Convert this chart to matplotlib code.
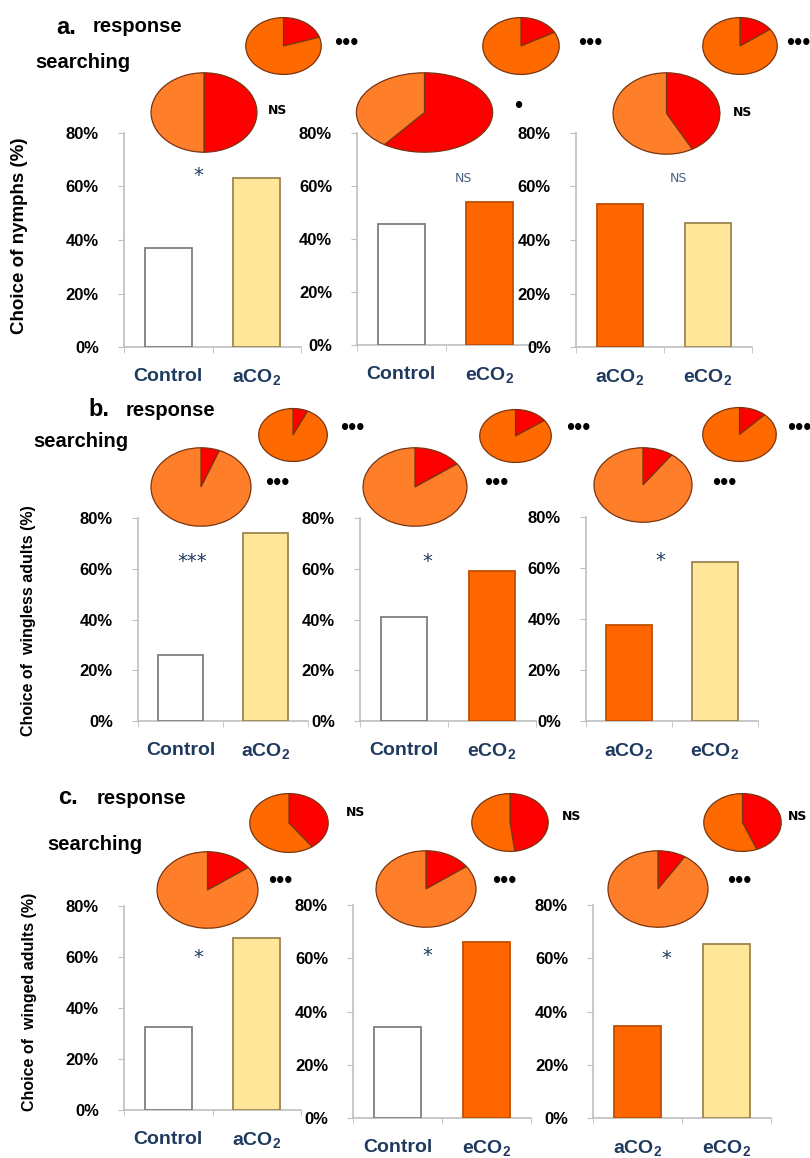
import matplotlib
matplotlib.use("Agg")
import matplotlib.pyplot as plt

plt.rcParams['font.family'] = ['Liberation Sans', 'DejaVu Sans']
plt.rcParams['mathtext.fontset'] = 'custom'
plt.rcParams['mathtext.bf'] = 'Liberation Sans:bold'
plt.rcParams['mathtext.rm'] = 'Liberation Sans:bold'

# ---------------- data ----------------
row_letters = ['a.', 'b.', 'c.']
y_labels = ['Choice of nymphs (%)', 'Choice of  wingless adults (%)', 'Choice of  winged adults (%)']
col_categories = [['Control', r'aCO$_\mathbf{2}$'], ['Control', r'eCO$_\mathbf{2}$'],
                  [r'aCO$_\mathbf{2}$', r'eCO$_\mathbf{2}$']]
col_bar_kinds = [['white', 'yellow'], ['white', 'orange'], ['orange', 'yellow']]

nymph_values = [[37, 63], [45.5, 54], [53.5, 46.5]]
wingless_values = [[26, 74], [41, 59], [37.5, 62.5]]
winged_values = [[32.5, 67.5], [34, 66], [34.5, 65.5]]
bar_values = [nymph_values, wingless_values, winged_values]

bar_sig = [['*', 'NS', 'NS'], ['***', '*', '*'], ['*', '*', '*']]

# pie red fractions (red = first choice share)
response_red = [[0.20, 0.17, 0.15], [0.07, 0.15, 0.12], [0.40, 0.48, 0.44]]
searching_red = [[0.50, 0.60, 0.42], [0.06, 0.15, 0.10], [0.15, 0.15, 0.09]]
response_sig = [['\u2022\u2022\u2022'] * 3, ['\u2022\u2022\u2022'] * 3, ['NS'] * 3]
searching_sig = [['NS', '\u2022', 'NS'], ['\u2022\u2022\u2022'] * 3, ['\u2022\u2022\u2022'] * 3]

y_ticks = [0, 20, 40, 60, 80]
y_tick_labels = ['0%', '20%', '40%', '60%', '80%']

# ---------------- style ----------------
W, H = 810, 1158
fig = plt.figure(figsize=(W / 100, H / 100), dpi=100)

bar_face = {'white': '#FFFFFF', 'yellow': '#FFE699', 'orange': '#FF6600'}
bar_edge = {'white': '#7F7F7F', 'yellow': '#9C8650', 'orange': '#C04E00'}
navy = '#1F3A5F'


def px_axes(x, y, w, h):
    return fig.add_axes([x / W, 1 - (y + h) / H, w / W, h / H])


# bar axes layout in pixels: left (x of y-axis), top (80%), bottom (0%)
bar_left = [[124, 357, 576], [138, 360, 586], [124, 353, 593]]
bar_top = [[133, 133, 133], [518, 518, 517], [906, 905, 905]]
bar_bottom = [[347, 345, 347], [721, 721, 721], [1110, 1118, 1118]]
bar_span = [[177, 177, 176], [170, 176, 172], [177, 178, 178]]
sig_pos = [[(0.34, 64), (0.70, 63), (0.66, 63)],
           [(0.14, 63), (0.27, 63), (0.36, 63)],
           [(0.34, 60), (0.33, 61), (0.32, 60)]]

for r in range(3):
    for c in range(3):
        l, t, b, sp = bar_left[r][c], bar_top[r][c], bar_bottom[r][c], bar_span[r][c]
        ax = px_axes(l, t, sp, b - t)
        vals = bar_values[r][c]
        kinds = col_bar_kinds[c]
        ax.bar([0, 1], vals, width=0.53,
               color=[bar_face[k] for k in kinds],
               edgecolor=[bar_edge[k] for k in kinds], linewidth=1.3, zorder=3)
        ax.set_xlim(-0.5, 1.5)
        ax.set_ylim(0, 80)
        for s in ['top', 'right']:
            ax.spines[s].set_visible(False)
        for s in ['left', 'bottom']:
            ax.spines[s].set_color('#BFBFBF')
            ax.spines[s].set_linewidth(1.2)
        ax.set_yticks(y_ticks)
        ax.set_yticklabels(y_tick_labels, fontsize=12, fontweight='bold')
        ax.tick_params(axis='y', length=4, color='#BFBFBF', pad=14)
        ax.set_xticks([0, 1])
        ax.set_xticklabels(col_categories[c], fontsize=14, fontweight='bold', color=navy)
        ax.set_xticks([-0.5, 0.5, 1.5], minor=True)
        ax.tick_params(axis='x', which='major', length=0, pad=15)
        ax.tick_params(axis='x', which='minor', length=4, color='#BFBFBF', direction='out')
        sx, sy = sig_pos[r][c]
        s = bar_sig[r][c]
        if s == 'NS':
            ax.text(sx, sy, s, ha='center', va='center', color='#4A5F80',
                    fontsize=9, family=['DejaVu Sans'])
        else:
            ax.text(sx, sy, s, ha='center', va='center', color=navy,
                    fontsize=14, family=['DejaVu Sans'])

# y labels (pixel x, centre y, size)
ylabel_pos = [(20, 236, 13.5), (29, 621, 11.5), (30, 1002, 11.5)]
for r in range(3):
    x, y, fs = ylabel_pos[r]
    fig.text(x / W, 1 - y / H, y_labels[r], rotation=90, ha='center', va='center',
             fontsize=fs, fontweight='bold')

# pies: (x, y, w, h) in pixels
resp_box = [[(245, 17, 77, 58), (482, 17, 78, 58), (702, 17, 76, 58)],
            [(258, 408, 70, 54), (479, 409, 73, 54), (702, 407, 75, 55)],
            [(249, 793, 80, 60), (471, 793, 78, 59), (703, 793, 79, 59)]]
search_box = [[(150, 72, 108, 81), (355, 72, 139, 81), (612, 72, 109, 83)],
              [(150, 447, 102, 80), (362, 447, 106, 80), (593, 447, 100, 76)],
              [(156, 851, 103, 78), (375, 850, 102, 78), (607, 850, 102, 78)]]
resp_sig_xy = [[(346, 44), (590, 44), (798, 44)],
               [(352, 429), (578, 429), (799, 429)],
               [(356, 813), (572, 817), (798, 817)]]
search_sig_xy = [[(278, 110), (518, 107), (743, 112)],
                 [(277, 484), (496, 484), (724, 484)],
                 [(280, 882), (504, 882), (739, 882)]]


def draw_pie(box, red, orange):
    ax = px_axes(*box)
    ax.pie([red, 1 - red], colors=['#FF0000', orange], startangle=90, counterclock=False,
           wedgeprops=dict(edgecolor='#7A3510', linewidth=0.9))
    ax.set_aspect('auto')
    ax.set_xlim(-1.02, 1.02)
    ax.set_ylim(-1.02, 1.02)
    ax.axis('off')


def sig_text(xy, s):
    x, y = xy
    if s == 'NS':
        fig.text(x / W, 1 - y / H, s, ha='center', va='center', fontsize=9,
                 fontweight='bold', family=['DejaVu Sans'], color='black')
    else:
        fig.text(x / W, 1 - y / H, s, ha='center', va='center', fontsize=17,
                 family=['Liberation Sans'], color='black')


for r in range(3):
    for c in range(3):
        draw_pie(resp_box[r][c], response_red[r][c], '#FF6A00')
        draw_pie(search_box[r][c], searching_red[r][c], '#FF7E2A')
        sig_text(resp_sig_xy[r][c], response_sig[r][c])
        sig_text(search_sig_xy[r][c], searching_sig[r][c])

# panel headers
header_pos = [((56, 27), (93, 27), (35, 62)),
              ((88, 410), (126, 410), (33, 442)),
              ((58, 798), (97, 798), (47, 845))]
for r in range(3):
    (lx, ly), (rx, ry), (sx, sy) = header_pos[r]
    fig.text(lx / W, 1 - ly / H, row_letters[r], fontsize=17, fontweight='bold', va='center', ha='left')
    fig.text(rx / W, 1 - ry / H, 'response', fontsize=14.5, fontweight='bold', va='center', ha='left')
    fig.text(sx / W, 1 - sy / H, 'searching', fontsize=14.5, fontweight='bold', va='center', ha='left')

fig.savefig('out.png', dpi=100)
